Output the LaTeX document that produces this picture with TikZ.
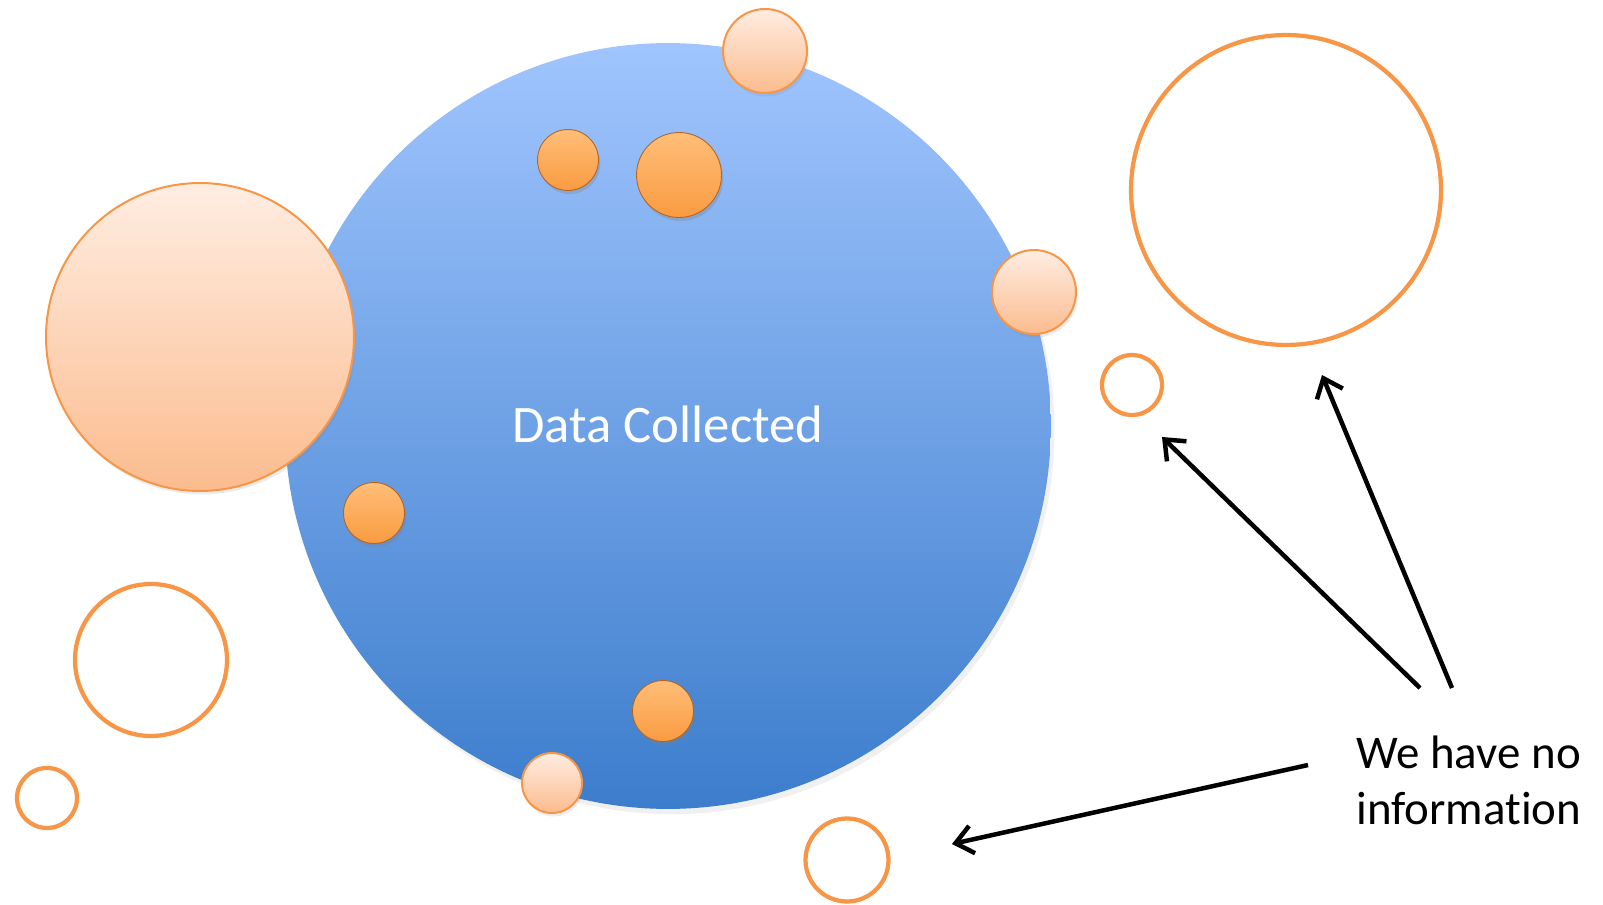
\documentclass[tikz,border=0pt]{standalone}
\usepackage{fontspec}
\setmainfont{Carlito}[Ligatures={NoCommon,NoContextual}]
\usetikzlibrary{arrows.meta,shadows}
\definecolor{myorange}{RGB}{247,150,70}
\definecolor{mypeach}{RGB}{255,237,226}
\definecolor{mypeachdk}{RGB}{251,188,142}
\definecolor{myblue}{RGB}{160,197,254}
\definecolor{mybluedk}{RGB}{60,125,204}
\definecolor{myball}{RGB}{255,190,120}
\definecolor{myballdk}{RGB}{250,155,65}
\definecolor{myrim}{RGB}{180,100,35}

\begin{document}
\begin{tikzpicture}[x=0.02cm,y=-0.02cm,inner sep=0pt]
\tikzstyle{data}=[circle, minimum size=15.32cm, top color=myblue, bottom color=mybluedk, drop shadow={opacity=0.12, shadow xshift=2pt, shadow yshift=-3pt}]
\tikzstyle{peach}=[circle, draw=myorange, line width=0.04cm, top color=mypeach, bottom color=mypeachdk, drop shadow={opacity=0.15, shadow xshift=1pt, shadow yshift=-2pt}]
\tikzstyle{ball}=[circle, minimum size=1.22cm, draw=myrim, line width=0.5pt, top color=myball, bottom color=myballdk, drop shadow={opacity=0.3, shadow xshift=1pt, shadow yshift=-2pt}]
\tikzstyle{empty}=[circle, draw=myorange, line width=0.085cm]
\tikzstyle{connect}=[-{Straight Barb[length=0.34cm,width=0.56cm]}, line width=0.09cm]
\useasboundingbox (0,0) rectangle (1603,905);
% collected data
\node[data] (dc) at (668,426) {};
\node[text=white, font=\fontsize{30}{36}\selectfont] (dctxt) at (668,424) {Data Collected};
\node[peach, minimum size=6.16cm] (pbig) at (200,337) {};
\node[peach, minimum size=1.68cm] (ptop) at (765,51) {};
\node[peach, minimum size=1.68cm] (prt) at (1034,292) {};
\node[peach, minimum size=1.2cm] (pbot) at (552,783) {};
\node[ball] (b1) at (568,160) {};
\node[ball, minimum size=1.7cm] (b2) at (679,175) {};
\node[ball] (b3) at (374,513) {};
\node[ball] (b4) at (663,711) {};
% no information
\node[empty, minimum size=6.2cm] (ebig) at (1286,190) {};
\node[empty, minimum size=1.2cm] (esm) at (1132,385) {};
\node[empty, minimum size=3.04cm] (emid) at (151,660) {};
\node[empty, minimum size=1.2cm] (elow) at (47,798) {};
\node[empty, minimum size=1.66cm] (ebot) at (847,860) {};
\node[anchor=west, align=left, font=\fontsize{26.7}{32}\selectfont] (info) at (1356,780) {We have no\\information};
\coordinate (s1) at (1420,688);
\coordinate (t1) at (1162,437);
\coordinate (s2) at (1452,688);
\coordinate (t2) at (1322,375);
\coordinate (s3) at (1308,765);
\coordinate (t3) at (952,844);
\draw[connect] (s1) -- (t1);
\draw[connect] (s2) -- (t2);
\draw[connect] (s3) -- (t3);
\end{tikzpicture}
\end{document}
